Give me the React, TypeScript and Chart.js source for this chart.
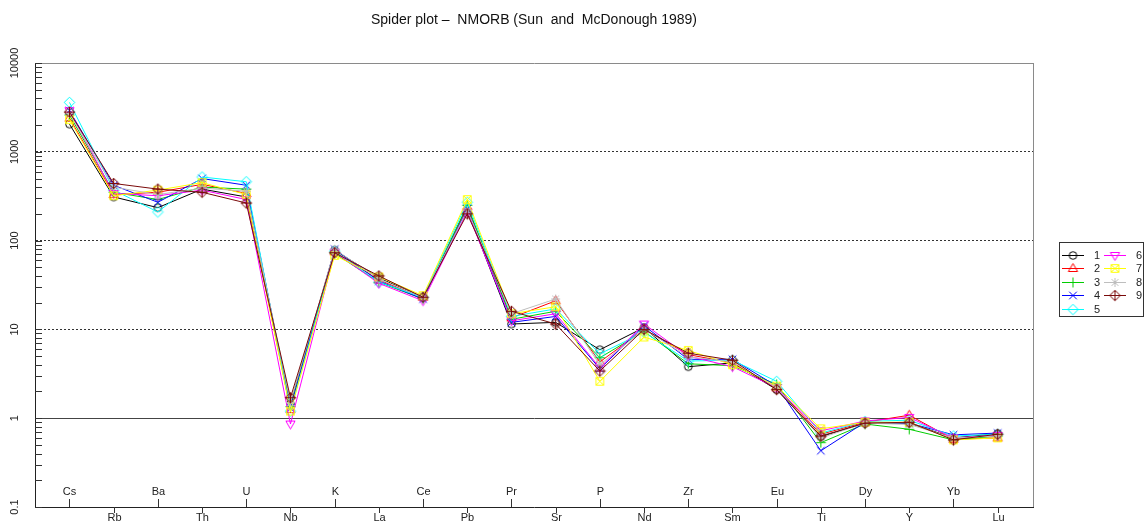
import React, { useEffect, useRef } from 'react';
import { Chart, registerables } from 'chart.js';

Chart.register(...registerables);

const TITLE = 'Spider plot \u2013  NMORB (Sun  and  McDonough 1989)';
const ELEMENTS = ['Cs', 'Rb', 'Ba', 'Th', 'U', 'Nb', 'K', 'La', 'Ce', 'Pb', 'Pr', 'Sr', 'P', 'Nd', 'Zr', 'Sm', 'Eu', 'Ti', 'Dy', 'Y', 'Yb', 'Lu'];
const SERIES_LABELS = ['1', '2', '3', '4', '5', '6', '7', '8', '9'];

const S1 = [2050, 310, 235, 380, 310, 1.45, 78, 38, 23, 220, 11.5, 12, 5.9, 10.5, 3.8, 4.2, 2.1, 0.62, 0.88, 0.88, 0.6, 0.67];
const S2 = [2400, 330, 350, 430, 340, 1.25, 75, 36, 23, 240, 13.5, 21, 4.3, 10, 5.2, 4.2, 2.2, 0.66, 0.9, 1.08, 0.58, 0.6];
const S3 = [2600, 350, 290, 400, 380, 1.35, 72, 34, 22, 250, 13, 16, 4.8, 9.5, 4.1, 3.9, 2.4, 0.53, 0.86, 0.75, 0.57, 0.63];
const S4 = [2900, 420, 270, 500, 420, 1.3, 80, 35, 22, 230, 12, 14, 3.6, 11, 4.6, 4.6, 2.3, 0.43, 0.9, 0.88, 0.65, 0.68];
const S5 = [3600, 370, 210, 520, 460, 1.2, 76, 34, 23, 270, 14, 17, 5.3, 9.3, 4.4, 4.5, 2.6, 0.68, 0.92, 0.95, 0.63, 0.66];
const S6 = [2900, 340, 320, 370, 290, 0.86, 74, 33, 21, 210, 12.5, 15, 3.7, 11.5, 5.0, 3.8, 2.2, 0.72, 0.93, 1.02, 0.6, 0.64];
const S7 = [2300, 320, 370, 450, 330, 1.2, 68, 39, 24, 290, 15, 18, 2.6, 8.2, 5.8, 4.0, 2.3, 0.76, 0.9, 0.9, 0.57, 0.6];
const S8 = [2700, 400, 330, 390, 360, 1.5, 80, 37, 23, 220, 15, 22, 4.0, 10, 4.9, 4.3, 2.2, 0.6, 0.88, 0.85, 0.6, 0.63];
const S9 = [2800, 440, 380, 350, 265, 1.7, 73, 40, 23, 200, 16, 11.5, 3.4, 10, 5.4, 4.5, 2.1, 0.63, 0.88, 0.9, 0.57, 0.66];
const SERIES = [S1, S2, S3, S4, S5, S6, S7, S8, S9];

const COLORS = ['#000000', '#FF0000', '#00CD00', '#0000FF', '#00FFFF', '#FF00FF', '#FFFF00', '#BEBEBE', '#7A0A0A'];
const PCH = [1, 2, 3, 4, 5, 6, 7, 8, 9];

const Y_MAJOR = [0.1, 1, 10, 100, 1000, 10000];
const Y_MINOR_STEPS = [2, 3, 4, 5, 6, 7, 8, 9];

const FONT = '"Liberation Sans", Arial, Helvetica, sans-serif';

function buildYTicks(): number[] {
  const out: number[] = [];
  for (let i = 0; i < Y_MAJOR.length; i++) {
    out.push(Y_MAJOR[i]);
    if (i < Y_MAJOR.length - 1) {
      for (const m of Y_MINOR_STEPS) out.push(Y_MAJOR[i] * m);
    }
  }
  return out;
}

function makeMarker(pch: number, color: string): HTMLCanvasElement {
  const c = document.createElement('canvas');
  c.width = 15;
  c.height = 15;
  const g = c.getContext('2d')!;
  g.strokeStyle = color;
  g.lineWidth = 1;
  const cx = 7.5, cy = 7.5;
  g.beginPath();
  const diamond = (r: number) => {
    g.moveTo(cx, cy - r); g.lineTo(cx + r, cy); g.lineTo(cx, cy + r); g.lineTo(cx - r, cy); g.closePath();
  };
  const plus = (r: number) => {
    g.moveTo(cx - r, cy); g.lineTo(cx + r, cy); g.moveTo(cx, cy - r); g.lineTo(cx, cy + r);
  };
  const cross = (r: number) => {
    g.moveTo(cx - r, cy - r); g.lineTo(cx + r, cy + r); g.moveTo(cx + r, cy - r); g.lineTo(cx - r, cy + r);
  };
  switch (pch) {
    case 1: g.arc(cx, cy, 3.8, 0, Math.PI * 2); break;
    case 2: g.moveTo(cx, cy - 5); g.lineTo(cx + 4.6, cy + 3); g.lineTo(cx - 4.6, cy + 3); g.closePath(); break;
    case 3: plus(5); break;
    case 4: cross(3.8); break;
    case 5: diamond(5.3); break;
    case 6: g.moveTo(cx, cy + 5); g.lineTo(cx + 4.6, cy - 3); g.lineTo(cx - 4.6, cy - 3); g.closePath(); break;
    case 7: g.rect(cx - 3.8, cy - 3.8, 7.6, 7.6); cross(3.8); break;
    case 8: plus(4.5); cross(3.4); break;
    case 9: diamond(5.3); plus(5.3); break;
  }
  g.stroke();
  return c;
}

export default function App() {
  const ref = useRef<HTMLCanvasElement | null>(null);

  useEffect(() => {
    if (!ref.current) return;
    const markers = PCH.map((p, i) => makeMarker(p, COLORS[i]));
    const yTicks = buildYTicks();

    const overlay = {
      id: 'overlay',
      afterDraw(chart: any) {
        const { ctx, chartArea: a, scales } = chart;
        const xs = scales.x, ys = scales.y;
        ctx.save();
        // right border
        ctx.strokeStyle = '#8a8a8a';
        ctx.lineWidth = 1;
        ctx.beginPath();
        const rx = Math.round(a.right) + 0.5;
        ctx.moveTo(rx, a.top);
        ctx.lineTo(rx, a.bottom);
        ctx.stroke();
        // inward minor ticks on y axis
        ctx.strokeStyle = '#333';
        ctx.beginPath();
        ys.ticks.forEach((t: any) => {
          const py = Math.round(ys.getPixelForValue(t.value)) + 0.5;
          ctx.moveTo(a.left, py);
          ctx.lineTo(a.left + 7, py);
        });
        ctx.stroke();
        // category labels, alternating
        ctx.font = '11px ' + FONT;
        ctx.fillStyle = '#222';
        ctx.textAlign = 'center';
        ctx.textBaseline = 'middle';
        ctx.beginPath();
        ELEMENTS.forEach((el, i) => {
          const px = Math.round(xs.getPixelForValue(i)) + 0.5;
          if (i % 2 === 0) {
            ctx.moveTo(px, a.bottom - 8);
            ctx.lineTo(px, a.bottom);
            ctx.fillText(el, px, a.bottom - 15);
          } else {
            ctx.moveTo(px, a.bottom);
            ctx.lineTo(px, a.bottom + 6);
            ctx.fillText(el, px, a.bottom + 11);
          }
        });
        ctx.stroke();
        // legend
        const bx = 1059.5, by = 242.5, bw = 84, bh = 74;
        ctx.strokeStyle = '#333';
        ctx.strokeRect(bx, by, bw, bh);
        ctx.textAlign = 'center';
        SERIES_LABELS.forEach((lab, i) => {
          const col = i < 5 ? 0 : 1;
          const row = i < 5 ? i : i - 5;
          const x0 = col === 0 ? 1062 : 1104;
          const y = Math.round(255 + row * 13.4) + 0.5;
          ctx.strokeStyle = COLORS[i];
          ctx.beginPath();
          ctx.moveTo(x0, y);
          ctx.lineTo(x0 + 22, y);
          ctx.stroke();
          ctx.drawImage(markers[i], x0 + 11 - 7.5, y - 7.5);
          ctx.fillStyle = '#222';
          ctx.fillText(lab, x0 + 35, y);
        });
        ctx.restore();
      },
    };

    const chart = new Chart(ref.current, {
      type: 'line',
      data: {
        datasets: SERIES.map((s, i) => ({
          label: SERIES_LABELS[i],
          data: s.map((v, j) => ({ x: j, y: v })),
          borderColor: COLORS[i],
          backgroundColor: COLORS[i],
          borderWidth: 1,
          pointStyle: markers[i],
          pointRadius: 5,
          tension: 0,
          order: 9 - i,
        })),
      },
      options: {
        animation: false,
        responsive: false,
        devicePixelRatio: 1,
        layout: { padding: { left: 0, right: 111, top: 0, bottom: 0 } },
        plugins: {
          legend: { display: false },
          tooltip: { enabled: false },
          title: {
            display: true,
            text: TITLE,
            fullSize: false,
            color: '#111',
            font: { family: FONT, size: 14, weight: 'normal', lineHeight: 1.2 },
            padding: { top: 12, bottom: 34.2 },
          },
        },
        scales: {
          x: {
            type: 'linear',
            min: -0.78,
            max: 21.8,
            afterFit: (s: any) => { s.height = 17; },
            ticks: { display: false },
            grid: { display: false },
            border: { display: true, color: '#222' },
          },
          y: {
            type: 'logarithmic',
            min: 0.1,
            max: 10000,
            afterBuildTicks: (s: any) => { s.ticks = yTicks.map((v) => ({ value: v })); },
            afterFit: (s: any) => { s.width = 35; },
            ticks: {
              autoSkip: false,
              minRotation: 90,
              maxRotation: 90,
              crossAlign: 'center',
              padding: 5,
              color: '#222',
              font: { family: FONT, size: 11 },
              callback: (v: any) => (Y_MAJOR.includes(v) ? String(v) : ''),
            },
            grid: {
              drawTicks: false,
              lineWidth: 1,
              color: (c: any) => {
                const v = c.tick ? c.tick.value : null;
                if (v === 10000) return '#8a8a8a';
                if (v === 1) return '#444';
                if (v === 10 || v === 100 || v === 1000) return '#333';
                return 'rgba(0,0,0,0)';
              },
            },
            border: {
              display: true,
              color: '#222',
              dash: (c: any) => {
                const v = c.tick ? c.tick.value : null;
                return v === 10 || v === 100 || v === 1000 ? [2, 2] : [];
              },
            },
          },
        },
      } as any,
      plugins: [overlay],
    });
    return () => chart.destroy();
  }, []);

  return (
    <div style={{ position: 'fixed', left: 0, top: 0, width: 1144, height: 524, background: '#fff' }}>
      <canvas ref={ref} width={1144} height={524} />
    </div>
  );
}
